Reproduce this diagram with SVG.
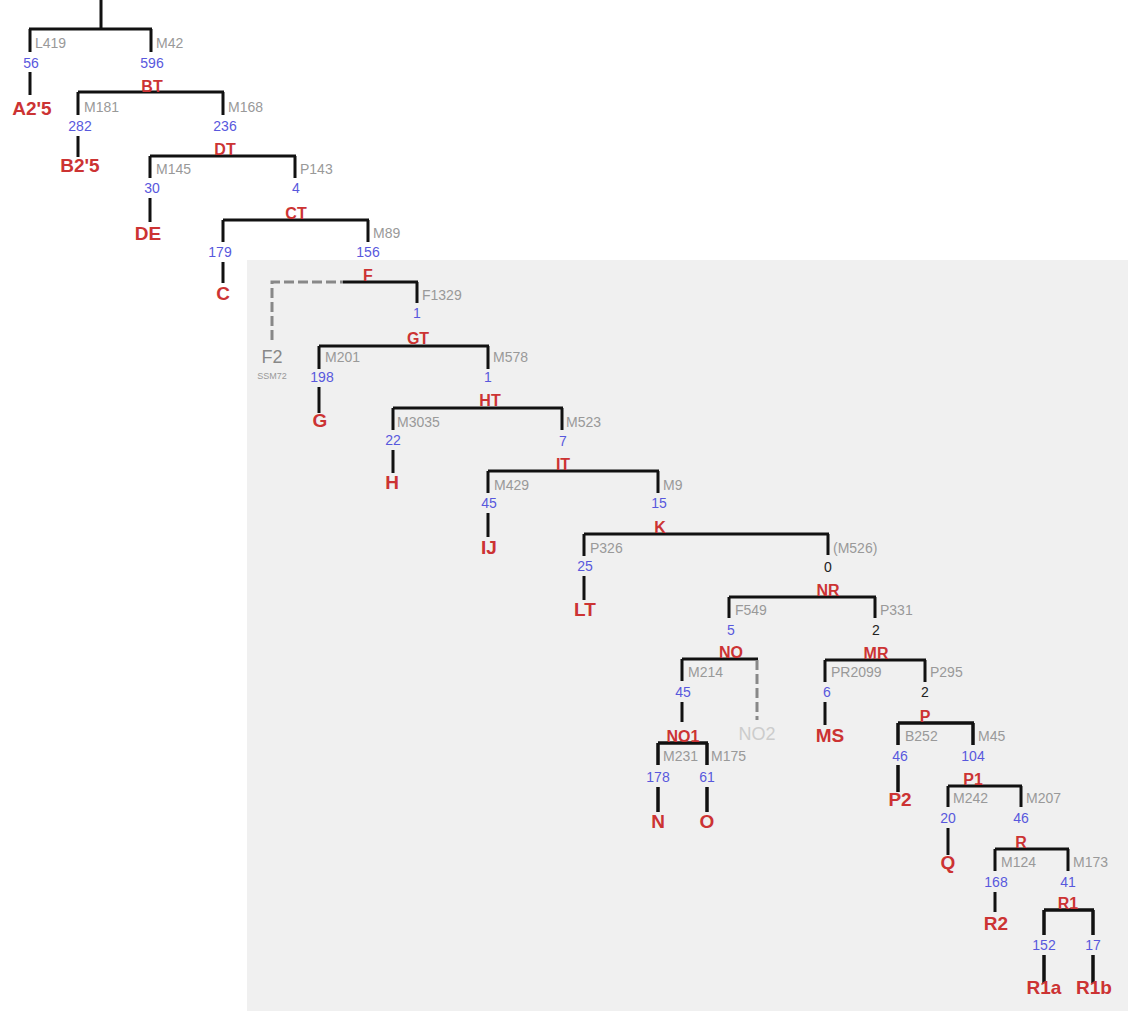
<svg xmlns="http://www.w3.org/2000/svg" width="1128" height="1011" viewBox="0 0 1128 1011">
<style>
.e{stroke:#111;stroke-width:3;fill:none}
.d{stroke:#888;stroke-width:3;fill:none;stroke-dasharray:10 4}
.m{font-family:"Liberation Sans",Arial,sans-serif;font-size:14px;fill:#999}
.n{font-family:"Liberation Sans",Arial,sans-serif;font-size:14px;fill:#5858dd;text-anchor:middle}
.k{font-family:"Liberation Sans",Arial,sans-serif;font-size:14px;fill:#222;text-anchor:middle}
.h{font-family:"Liberation Sans",Arial,sans-serif;font-size:16px;font-weight:bold;fill:#cc3333;text-anchor:middle}
.l{font-family:"Liberation Sans",Arial,sans-serif;font-size:19px;font-weight:bold;fill:#cc3333;text-anchor:middle}
.g{font-family:"Liberation Sans",Arial,sans-serif;font-size:18px;fill:#888;text-anchor:middle}
</style>
<rect x="0" y="0" width="1128" height="1011" fill="#fff"/>
<rect x="247" y="260" width="881" height="751" fill="#f0f0f0"/>
<g id="connectors">
<path class="e" d="M101 0V29M29 29H152M30 29V52M30 72V95M151 29V52"/>
<path class="e" d="M78 92H224M78 92V115M78 136V157M223 92V115"/>
<path class="e" d="M150 156H296M150 156V178M150 198V222M295 156V178"/>
<path class="e" d="M223 220H369M223 220V242M223 262V283M368 220V242"/>
<path class="d" d="M272 340V282H343"/>
<path class="e" d="M343 282H418M417 282V303"/>
<path class="e" d="M319 346H489M319 346V369M319 387V413M488 346V369"/>
<path class="e" d="M393 408H563M393 408V430M393 450V473M562 408V430"/>
<path class="e" d="M488 471H659M488 471V493M488 513V537M658 471V493"/>
<path class="e" d="M584 534H829M584 534V556M584 576V600M828 534V555"/>
<path class="e" d="M729 597H876M729 597V618M875 597V618"/>
<path class="e" d="M682 659H758M682 659V681M682 702V722"/>
<path class="d" d="M757 660V720"/>
<path class="e" style="stroke-width:3.5" d="M658 743H708M658 743V765M658 787V812M707 743V765M707 787V812"/>
<path class="e" d="M825 660H926M825 660V682M825 702V725M925 660V682"/>
<path class="e" style="stroke-width:3.5" d="M898 723H974M898 723V745M898 765V792M973 723V745"/>
<path class="e" d="M948 786H1022M948 786V807M948 828V855M1021 786V807"/>
<path class="e" d="M995 849H1069M995 849V871M995 892V912M1068 849V871"/>
<path class="e" style="stroke-width:3.5" d="M1044 910H1094M1044 910V935M1044 955V983M1093 910V935M1093 955V983"/>
</g>
<g id="root"><text class="m" x="35" y="48">L419</text><text class="m" x="156" y="48">M42</text></g>
<g id="A25"><text class="n" x="31" y="68">56</text><text class="l" x="32" y="115">A2'5</text></g>
<g id="BT"><text class="n" x="152" y="68">596</text><text class="h" x="152" y="92">BT</text><text class="m" x="84" y="112">M181</text><text class="m" x="228" y="112">M168</text></g>
<g id="B25"><text class="n" x="80" y="131">282</text><text class="l" x="80" y="172">B2'5</text></g>
<g id="DT"><text class="n" x="225" y="131">236</text><text class="h" x="225" y="155">DT</text><text class="m" x="156" y="174">M145</text><text class="m" x="300" y="174">P143</text></g>
<g id="DE"><text class="n" x="152" y="193">30</text><text class="l" x="148" y="240">DE</text></g>
<g id="CT"><text class="n" x="296" y="193">4</text><text class="h" x="296" y="219">CT</text><text class="m" x="373" y="238">M89</text></g>
<g id="C"><text class="n" x="220" y="257">179</text><text class="l" x="223" y="300">C</text></g>
<g id="F"><text class="n" x="368" y="257">156</text><text class="h" x="368" y="281">F</text><text class="m" x="422" y="300">F1329</text></g>
<g id="F2"><text class="g" x="272" y="363">F2</text><text class="m" style="font-size:9px;text-anchor:middle" x="272" y="379">SSM72</text></g>
<g id="GT"><text class="n" x="417" y="318">1</text><text class="h" x="418" y="344">GT</text><text class="m" x="325" y="362">M201</text><text class="m" x="493" y="362">M578</text></g>
<g id="G"><text class="n" x="322" y="382">198</text><text class="l" x="320" y="427">G</text></g>
<g id="HT"><text class="n" x="488" y="382">1</text><text class="h" x="490" y="406">HT</text><text class="m" x="397" y="427">M3035</text><text class="m" x="566" y="427">M523</text></g>
<g id="H"><text class="n" x="393" y="445">22</text><text class="l" x="392" y="489">H</text></g>
<g id="IT"><text class="n" x="563" y="446">7</text><text class="h" x="563" y="470">IT</text><text class="m" x="494" y="490">M429</text><text class="m" x="663" y="490">M9</text></g>
<g id="IJ"><text class="n" x="489" y="508">45</text><text class="l" x="489" y="554">IJ</text></g>
<g id="K"><text class="n" x="659" y="508">15</text><text class="h" x="660" y="533">K</text><text class="m" x="590" y="553">P326</text><text class="m" x="833" y="553">(M526)</text></g>
<g id="LT"><text class="n" x="585" y="571">25</text><text class="l" x="585" y="616">LT</text></g>
<g id="NR"><text class="k" x="828" y="572">0</text><text class="h" x="828" y="596">NR</text><text class="m" x="735" y="615">F549</text><text class="m" x="880" y="615">P331</text></g>
<g id="NO"><text class="n" x="731" y="635">5</text><text class="h" x="731" y="658">NO</text><text class="m" x="688" y="677">M214</text></g>
<g id="NO2"><text class="g" style="fill:#ccc" x="757" y="740">NO2</text></g>
<g id="NO1"><text class="n" x="683" y="697">45</text><text class="h" x="683" y="742">NO1</text><text class="m" x="663" y="761">M231</text><text class="m" x="711" y="761">M175</text></g>
<g id="N"><text class="n" x="658" y="782">178</text><text class="l" x="658" y="828">N</text></g>
<g id="O"><text class="n" x="707" y="782">61</text><text class="l" x="707" y="828">O</text></g>
<g id="MR"><text class="k" x="876" y="635">2</text><text class="h" x="876" y="659">MR</text><text class="m" x="831" y="677">PR2099</text><text class="m" x="930" y="677">P295</text></g>
<g id="MS"><text class="n" x="827" y="697">6</text><text class="l" x="830" y="742">MS</text></g>
<g id="P"><text class="k" x="925" y="697">2</text><text class="h" x="925" y="722">P</text><text class="m" x="905" y="741">B252</text><text class="m" x="978" y="741">M45</text></g>
<g id="P2"><text class="n" x="900" y="761">46</text><text class="l" x="900" y="806">P2</text></g>
<g id="P1"><text class="n" x="973" y="761">104</text><text class="h" x="973" y="785">P1</text><text class="m" x="953" y="803">M242</text><text class="m" x="1026" y="803">M207</text></g>
<g id="Q"><text class="n" x="948" y="823">20</text><text class="l" x="948" y="869">Q</text></g>
<g id="R"><text class="n" x="1021" y="823">46</text><text class="h" x="1021" y="848">R</text><text class="m" x="1001" y="867">M124</text><text class="m" x="1073" y="867">M173</text></g>
<g id="R2"><text class="n" x="996" y="887">168</text><text class="l" x="996" y="930">R2</text></g>
<g id="R1"><text class="n" x="1068" y="887">41</text><text class="h" x="1068" y="909">R1</text></g>
<g id="R1a"><text class="n" x="1044" y="950">152</text><text class="l" x="1044" y="994">R1a</text></g>
<g id="R1b"><text class="n" x="1093" y="950">17</text><text class="l" x="1094" y="994">R1b</text></g>
</svg>
